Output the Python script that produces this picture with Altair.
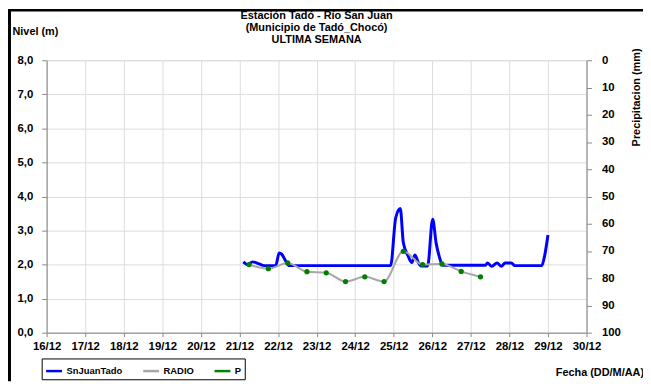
import altair as alt
import pandas as pd

# ---- data ----
sj_dia = [21.10, 21.21, 21.34, 21.51, 21.64, 21.94, 22.03, 22.10, 22.20, 22.29,
          24.92, 25.05, 25.17, 25.25, 25.37, 25.47, 25.55, 25.63, 25.70, 25.88,
          26.01, 26.10, 26.18, 26.27, 27.38, 27.43, 27.54, 27.68, 27.79, 27.89,
          28.05, 28.14, 28.84, 28.91, 29.00]
sj_nivel = [2.08, 2.00, 2.08, 2.02, 1.97, 1.97, 2.34, 2.30, 2.10, 1.97,
            1.97, 3.36, 3.65, 2.64, 2.26, 2.06, 2.28, 2.08, 1.96, 1.96,
            3.33, 2.63, 2.24, 1.98, 1.98, 2.05, 1.95, 2.05, 1.95, 2.05,
            2.05, 1.97, 1.97, 2.24, 2.87]

radio_dia = [21.25, 21.75, 22.25, 22.75, 23.25, 23.75, 24.25, 24.75, 25.25,
             25.75, 26.25, 26.75, 27.25]
radio_nivel = [2.00, 1.88, 2.05, 1.79, 1.76, 1.50, 1.64, 1.50, 2.39,
               2.00, 2.02, 1.80, 1.64]

p_dia = []
p_precip = []

series = ["SnJuanTado", "RADIO", "P"]
series_colors = ["#0000ff", "#a6a6a6", "#008000"]
x_ticks = list(range(16, 31))
y_ticks = list(range(0, 9))
p_ticks = list(range(0, 101, 10))
title_lines = ["Estación Tadó - Río San Juan", "(Municipio de Tadó_Chocó)", "ULTIMA SEMANA"]

FONT = "Liberation Sans"

df_sj = pd.DataFrame({"dia": sj_dia, "nivel": sj_nivel, "serie": "SnJuanTado"})
df_radio = pd.DataFrame({"dia": radio_dia, "nivel": radio_nivel, "serie": "RADIO"})
df_p = pd.DataFrame({"dia": pd.Series(p_dia, dtype=float),
                     "precip": pd.Series(p_precip, dtype=float),
                     "serie": pd.Series([], dtype=str)})

color_scale = alt.Scale(domain=series, range=series_colors)
legend = alt.Legend(
    title=None, orient="none", legendX=-5, legendY=301, direction="horizontal",
    symbolType="stroke", symbolSize=256, symbolStrokeWidth=2.5,
    labelFont=FONT, labelFontWeight="bold", labelFontSize=9.5, labelColor="black",
    strokeColor="black", fillColor="white", padding=3, columnPadding=15,
    labelOffset=3,
)

lab = dict(labelFont=FONT, labelFontWeight="bold", labelFontSize=11.5, labelColor="black",
           titleFont=FONT, titleFontWeight="bold", titleFontSize=11, titleColor="black")

x_enc = alt.X(
    "dia:Q",
    scale=alt.Scale(domain=[16, 30], nice=False, zero=False),
    axis=alt.Axis(
        values=x_ticks, labelExpr="datum.value + '/12'", grid=True, labelFlush=False,
        title="Fecha (DD/M/AA)", titleX=558, titleY=40, titleAlign="center",
        titleBaseline="middle", tickSize=4, labelPadding=4, labelOverlap=False, **lab,
    ),
)

y_axis = alt.Axis(
    values=y_ticks, labelExpr="replace(format(datum.value, '.1f'), '.', ',')",
    grid=True, title="Nivel (m)", titleAngle=0, titleX=-35, titleY=-29,
    titleAlign="left", titleBaseline="middle", tickSize=5, labelPadding=9,
    labelFlush=False, **lab,
)
y_scale = alt.Scale(domain=[0, 8], nice=False, zero=True)

blue = alt.Chart(df_sj).mark_line(strokeWidth=3, interpolate="monotone").encode(
    x=x_enc,
    y=alt.Y("nivel:Q", scale=y_scale, axis=y_axis),
    color=alt.Color("serie:N", scale=color_scale, legend=legend),
)

gray = alt.Chart(df_radio).mark_line(strokeWidth=2, interpolate="monotone").encode(
    x=x_enc,
    y=alt.Y("nivel:Q", scale=y_scale, axis=y_axis),
    color=alt.Color("serie:N", scale=color_scale, legend=legend),
)

green = alt.Chart(df_radio).mark_point(filled=True, size=28, color="#008000", opacity=1).encode(
    x=x_enc,
    y=alt.Y("nivel:Q", scale=y_scale, axis=y_axis),
)

frame_data = pd.DataFrame({"k": [0]})
border_left = alt.Chart(frame_data).mark_rule(color="black", strokeWidth=3).encode(
    x=alt.value(-37.5), y=alt.value(-51), y2=alt.value(324)
)
border_top = alt.Chart(frame_data).mark_rule(color="black", strokeWidth=2.5).encode(
    x=alt.value(-39), x2=alt.value(602), y=alt.value(-50.5)
)

left = alt.layer(border_left, border_top, blue, gray, green)

p_layer = alt.Chart(df_p).mark_square(size=20, filled=True, opacity=1).encode(
    x=x_enc,
    y=alt.Y(
        "precip:Q",
        scale=alt.Scale(domain=[0, 100], reverse=True, nice=False),
        axis=alt.Axis(
            orient="right", values=p_ticks, grid=False, labelFlush=False,
            title="Precipitacion (mm)", titleAngle=270, titleX=50, titleY=37,
            titleAlign="center", titleBaseline="middle", tickSize=5, labelPadding=10,
            **lab,
        ),
    ),
    color=alt.Color("serie:N", scale=color_scale, legend=legend),
)

chart = alt.layer(left, p_layer).resolve_scale(y="independent").properties(
    width=545, height=275,
    autosize=alt.AutoSizeParams(type="none"),
    padding={"left": 39, "top": 51, "right": 57, "bottom": 48},
    title=alt.TitleParams(
        text=title_lines, anchor="middle", frame="group", offset=-37,
        font=FONT, fontSize=11, fontWeight="bold", lineHeight=12, color="black",
    ),
).configure_view(stroke=None).configure_axis(
    domainColor="black", domainWidth=1, tickColor="black", tickWidth=1,
    gridColor="#cccccc", gridWidth=1.5,
).configure(background="white")

chart.save("out.html", embed_options={"renderer": "svg", "actions": False})
